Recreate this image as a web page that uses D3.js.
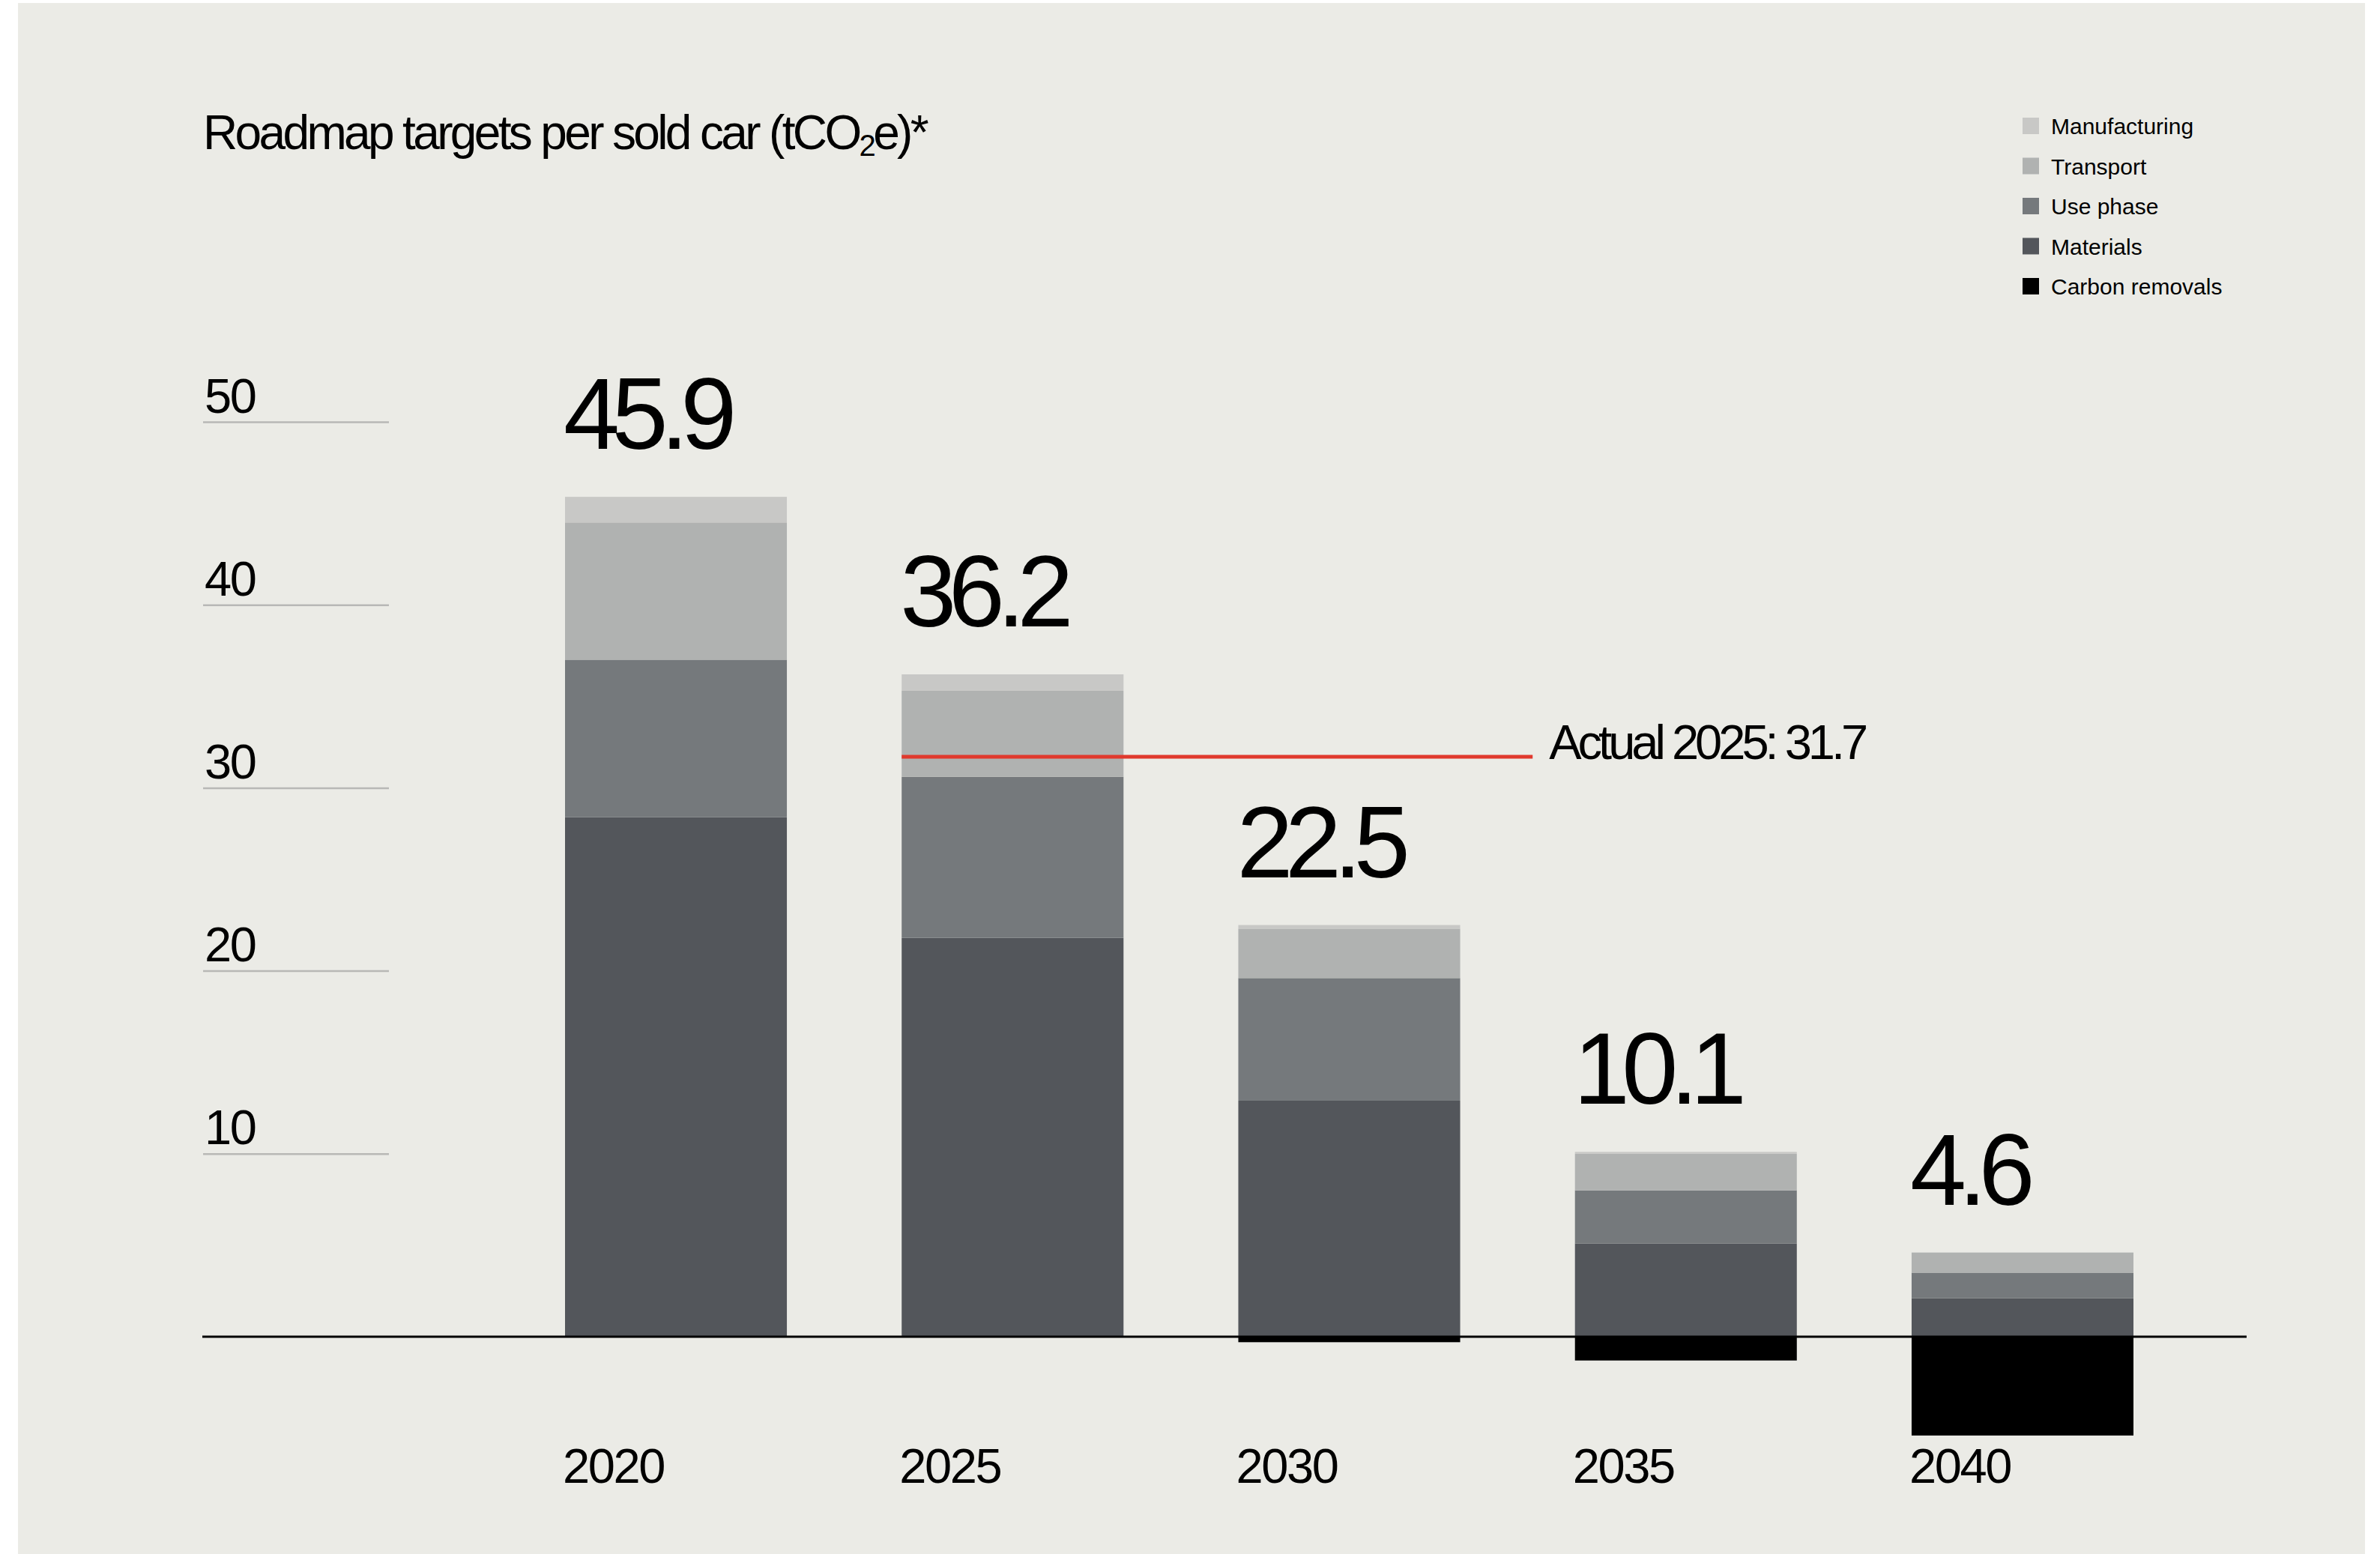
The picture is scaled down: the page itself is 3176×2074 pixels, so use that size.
<!DOCTYPE html>
<html>
<head>
<meta charset="utf-8">
<script src="https://cdn.jsdelivr.net/npm/d3@7"></script>
<style>
  html, body { margin: 0; padding: 0; background: #ffffff; }
  svg { display: block; }
  text { font-family: "Liberation Sans", Arial, Helvetica, sans-serif; fill: #000; }
</style>
</head>
<body>
<svg id="chart" width="3176" height="2074"></svg>
<script>
// ---- data (tCO2e per sold car) ----
const years = ["2020", "2025", "2030", "2035", "2040"];
const materials     = [28.4, 21.8, 12.9, 5.1, 2.1];
const usePhase      = [ 8.6,  8.8,  6.7, 2.9, 1.4];
const transport     = [ 7.5,  4.7,  2.7, 2.0, 1.1];
const manufacturing = [ 1.4,  0.9,  0.2, 0.1, 0.0];
const removals      = [ 0.0,  0.0, -0.3, -1.3, -5.4];
const actual2025 = 31.7;
const yTicks = [10, 20, 30, 40, 50];

const seriesKeys  = ["Materials", "Use phase", "Transport", "Manufacturing", "Carbon removals"];
const seriesData  = [materials, usePhase, transport, manufacturing, removals];
const legendOrder = ["Manufacturing", "Transport", "Use phase", "Materials", "Carbon removals"];
const colors = {
  "Manufacturing": "#c8c8c6",
  "Transport": "#b0b2b1",
  "Use phase": "#75797c",
  "Materials": "#53565b",
  "Carbon removals": "#000000"
};

// rows for the stack generator
const rows = years.map((yr, i) => {
  const r = { year: yr };
  seriesKeys.forEach((k, j) => { r[k] = seriesData[j][i]; });
  return r;
});

const svg = d3.select("#chart");

// panel background
svg.append("rect")
  .attr("x", 24).attr("y", 4).attr("width", 3132).attr("height", 2070)
  .attr("fill", "#ebebe6");

// scales
const x = d3.scaleBand().domain(years).range([754, 2847]).paddingInner(0.341).paddingOuter(0);
const y = d3.scaleLinear().domain([0, 50]).range([1784, 563]);

// y gridlines with labels sitting above them
const yAxis = svg.append("g")
  .attr("transform", "translate(271,0)")
  .call(d3.axisRight(y).tickValues(yTicks).tickSize(248).tickFormat(d3.format("d")));
yAxis.select(".domain").remove();
yAxis.selectAll(".tick line").attr("stroke", "#b8b8b6").attr("stroke-width", 2.5);
yAxis.selectAll(".tick text")
  .attr("x", 2).attr("y", -13).attr("dy", null)
  .attr("text-anchor", "start")
  .style("font-size", "65px").style("letter-spacing", "-2.5px")
  .attr("fill", "#000");
yAxis.attr("font-family", null).attr("font-size", null);

// stacked bars (removals diverge below zero)
const stacked = d3.stack().keys(seriesKeys).offset(d3.stackOffsetDiverging)(rows);
svg.append("g").selectAll("g")
  .data(stacked)
  .join("g")
  .attr("fill", d => colors[d.key])
  .selectAll("rect")
  .data(d => d)
  .join("rect")
  .attr("x", d => x(d.data.year))
  .attr("width", x.bandwidth())
  .attr("y", d => y(Math.max(d[0], d[1])))
  .attr("height", d => Math.abs(y(d[0]) - y(d[1])));

// zero baseline
svg.append("line")
  .attr("x1", 270).attr("x2", 2998)
  .attr("y1", y(0)).attr("y2", y(0))
  .attr("stroke", "#000").attr("stroke-width", 3);

// total labels above each bar
const totals = years.map((yr, i) => d3.sum([materials[i], usePhase[i], transport[i], manufacturing[i]]));
svg.append("g").selectAll("text")
  .data(years)
  .join("text")
  .attr("x", d => x(d) - 2)
  .attr("y", (d, i) => y(totals[i]) - 64)
  .style("font-size", "135px")
  .style("letter-spacing", "-10.5px")
  .text((d, i) => d3.format(".1f")(totals[i]));

// year labels
const xAxis = svg.append("g")
  .attr("transform", `translate(0,${y(0)})`)
  .call(d3.axisBottom(x).tickSize(0));
xAxis.select(".domain").remove();
xAxis.attr("font-family", null).attr("font-size", null);
xAxis.selectAll(".tick text")
  .attr("x", -x.bandwidth() / 2 - 3).attr("y", 195).attr("dy", null)
  .attr("text-anchor", "start")
  .style("font-size", "65px").style("letter-spacing", "-2.4px")
  .attr("fill", "#000");

// actual 2025 marker
const ay = y(actual2025);
const ax0 = x("2025");
const ax1 = ax0 + 842;
svg.append("line")
  .attr("x1", ax0).attr("x2", ax1).attr("y1", ay).attr("y2", ay)
  .attr("stroke", "#e0392d").attr("stroke-width", 5);
svg.append("text")
  .attr("x", ax1 + 22).attr("y", ay + 3)
  .style("font-size", "65px").style("letter-spacing", "-5px")
  .text("Actual 2025: " + actual2025);

// title
const title = svg.append("text")
  .attr("x", 271).attr("y", 199)
  .style("font-size", "64px");
title.append("tspan").text("Roadmap targets per sold car (tCO");
title.append("tspan").style("font-size", "40px").attr("dy", 9).text("2");
title.append("tspan").attr("dy", -9).text("e)*");
// tighten tracking to the title's set width
(function fit(sel, target) {
  const n = sel.text().length;
  const w = sel.node().getComputedTextLength();
  sel.style("letter-spacing", ((target - w) / n) + "px");
})(title, 965);

// legend
const legend = svg.append("g").attr("transform", "translate(2699,157)");
const li = legend.selectAll("g").data(legendOrder).join("g")
  .attr("transform", (d, i) => `translate(0,${i * 53.5})`);
li.append("rect").attr("width", 22).attr("height", 22).attr("fill", d => colors[d]);
li.append("text").attr("x", 38).attr("y", 22)
  .style("font-size", "30px")
  .text(d => d);
</script>
</body>
</html>
